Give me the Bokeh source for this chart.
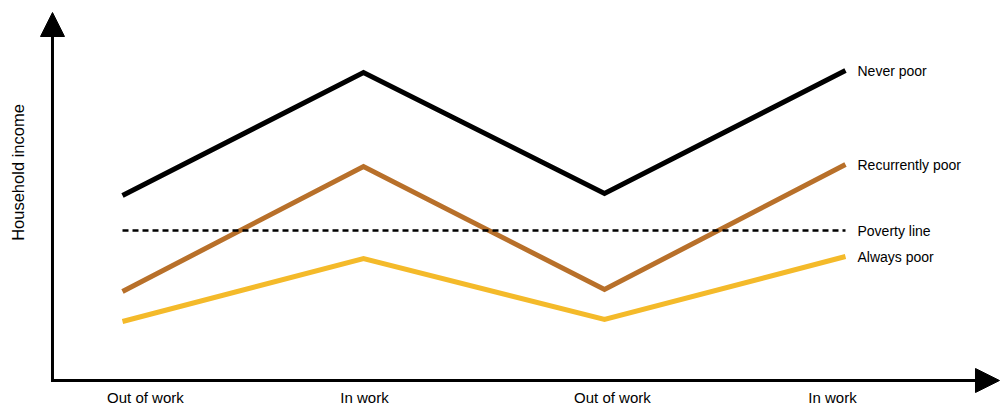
from math import pi
from bokeh.plotting import figure
from bokeh.models import Range1d, Arrow, NormalHead
from bokeh.core.properties import value
from bokeh.embed import file_html
from bokeh.resources import INLINE

# ---- data ----
stages = [1, 2, 3, 4]
x_labels = ["Out of work", "In work", "Out of work", "In work"]
never_poor = [185, 308, 187, 310]
recurrently_poor = [89, 214, 91, 216]
poverty_line = [150, 150, 150, 150]
always_poor = [59, 122, 61, 124]
series_names = ["Never poor", "Recurrently poor", "Poverty line", "Always poor"]
y_title = "Household income"

# ---- layout (positions in data units) ----
label_pos = [1.095, 2.004, 3.033, 3.946]   # x-label centres
X_AXIS_AT = 0.7095                          # where the income axis stands
X_TIP = 4.639                               # tip of the horizontal arrow
Y_TIP = 368                                 # tip of the vertical arrow

FONT = "Liberation Sans"
BROWN = "#B8702A"
YELLOW = "#F4BA2A"

# frame covers the whole canvas
p = figure(width=1000, height=408,
           x_range=Range1d(0.49378, 4.6432), y_range=Range1d(-28, 380),
           output_backend="svg", toolbar_location=None, min_border=0)
p.outline_line_color = None
p.grid.visible = False
p.axis.visible = False

# axes with arrow heads
p.add_layout(Arrow(end=NormalHead(size=24, fill_color="black", line_color="black"),
                   x_start=X_AXIS_AT, y_start=-1.5, x_end=X_AXIS_AT, y_end=Y_TIP,
                   line_width=3, line_color="black"))
p.add_layout(Arrow(end=NormalHead(size=24, fill_color="black", line_color="black"),
                   x_start=X_AXIS_AT - 0.006, y_start=0, x_end=X_TIP, y_end=0,
                   line_width=3, line_color="black"))

# series
p.line(stages, always_poor, line_color=YELLOW, line_width=5, line_join="miter")
p.line(stages, recurrently_poor, line_color=BROWN, line_width=5, line_join="miter")
p.line(stages, poverty_line, line_color="black", line_width=2.6, line_dash="6 4")
p.line(stages, never_poor, line_color="black", line_width=5, line_join="miter")

# series names at line ends
end_vals = [never_poor[-1], recurrently_poor[-1], poverty_line[-1], always_poor[-1]]
p.text(x=[stages[-1]] * 4, y=end_vals, text=series_names, x_offset=12,
       text_baseline="middle", text_align="left", text_color="black",
       text_font=value(FONT), text_font_size="14px")

# category labels under the horizontal axis
p.text(x=label_pos, y=[0] * 4, text=x_labels, y_offset=17,
       text_baseline="middle", text_align="center", text_color="black",
       text_font=value(FONT), text_font_size="15px")

# vertical axis title
p.text(x=[X_AXIS_AT], y=[208], text=[y_title], x_offset=-34, angle=pi / 2,
       text_baseline="middle", text_align="center", text_color="black",
       text_font=value(FONT), text_font_size="16.5px")

open("out.html", "w").write(file_html(p, INLINE))
